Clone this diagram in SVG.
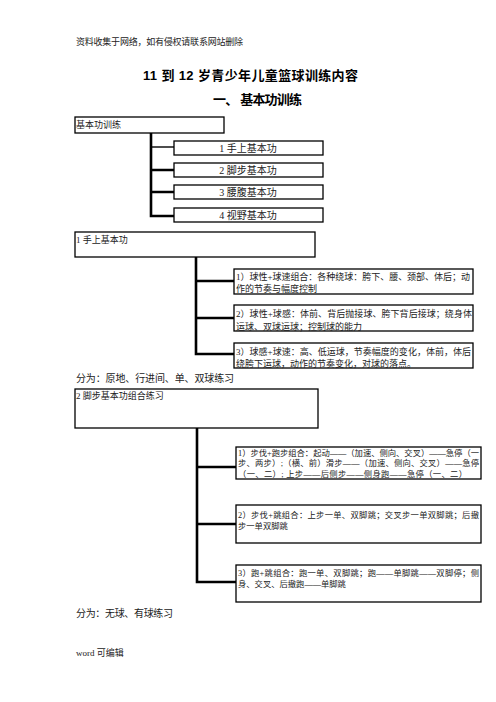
<svg xmlns="http://www.w3.org/2000/svg" width="496" height="702" viewBox="0 0 496 702">
<style>
text{font-family:"Liberation Serif","Noto Sans CJK SC",serif;fill:#222}
.t{font-size:9px}
.s{font-size:8.3px}
.m{font-size:10px}
.h{font-size:13px;font-weight:bold;font-family:"Liberation Sans","Noto Sans CJK SC",sans-serif;fill:#000}
.box{fill:#fff;stroke:#000;stroke-width:1.3}
.c{fill:none;stroke:#000;stroke-width:2.6}
</style>
<rect width="496" height="702" fill="#fff"/>
<text class="t" x="76" y="45" textLength="167">资料收集于网络，如有侵权请联系网站删除</text>
<text class="h" x="143" y="80" textLength="215">11 到 12 岁青少年儿童篮球训练内容</text>
<text class="h" x="213" y="104" textLength="89">一、 基本功训练</text>

<g id="connectors">
<path class="c" d="M151,133 V216 H174 M151,170 H174 M151,192 H174"/>
<path class="c" d="M151,147 H174" style="stroke-width:1.4"/>
<path class="c" d="M196,257 V354 H234 M196,281 H234 M196,318 H234"/>
<path class="c" d="M197,428 V582 H236 M197,467 H236 M197,524 H236"/>
</g>

<g id="root"><rect class="box" x="75" y="117" width="149" height="16"/><text class="t" x="76" y="128">基本功训练</text></g>
<g id="n1"><rect class="box" x="174" y="141" width="149" height="14"/><text class="m" x="248" y="152" text-anchor="middle">1 手上基本功</text></g>
<g id="n2"><rect class="box" x="174" y="163" width="149" height="14"/><text class="m" x="248" y="174" text-anchor="middle">2 脚步基本功</text></g>
<g id="n3"><rect class="box" x="174" y="185" width="149" height="14"/><text class="m" x="248" y="196" text-anchor="middle">3 腰腹基本功</text></g>
<g id="n4"><rect class="box" x="174" y="208" width="149" height="14"/><text class="m" x="248" y="219" text-anchor="middle">4 视野基本功</text></g>

<g id="s1"><rect class="box" x="75" y="232" width="240" height="25"/><text class="t" x="76" y="243">1 手上基本功</text></g>
<g id="s1a"><rect class="box" x="234" y="269" width="239" height="25"/>
<text class="t" x="236" y="279.5" textLength="234">1）球性+球速组合：各种绕球：胯下、腰、颈部、体后；动</text>
<text class="t" x="236" y="291.5">作的节奏与幅度控制</text></g>
<g id="s1b"><rect class="box" x="234" y="305" width="239" height="26"/>
<text class="t" x="236" y="316.5" textLength="236">2）球性+球感：体前、背后抛接球、胯下背后接球；绕身体</text>
<text class="t" x="236" y="329.5">运球、双球运球；控制球的能力</text></g>
<g id="s1c"><rect class="box" x="234" y="343" width="239" height="25"/>
<text class="t" x="236" y="354.5" textLength="235">3）球感+球速：高、低运球，节奏幅度的变化，体前，体后</text>
<text class="t" x="236" y="367">绕胯下运球，动作的节奏变化，对球的落点。</text></g>

<text class="m" x="76" y="381.5" textLength="158">分为：原地、行进间、单、双球练习</text>

<g id="s2"><rect class="box" x="75" y="389" width="243" height="39"/><text class="t" x="76" y="399">2 脚步基本功组合练习</text></g>
<g id="s2a"><rect class="box" x="236" y="447" width="245" height="32"/>
<text class="s" x="238" y="455.5" textLength="241">1）步伐+跑步组合：起动——（加速、侧向、交叉）——急停（一</text>
<text class="s" x="238" y="466" textLength="241">步、两步）;（横、前）滑步——（加速、侧向、交叉）——急停</text>
<text class="s" x="238" y="476.5" textLength="229">（一、二）; 上步——后侧步——侧身跑——急停（一、二）</text></g>
<g id="s2b"><rect class="box" x="236" y="505" width="245" height="38"/>
<text class="s" x="238" y="517.5" textLength="241">2）步伐+跳组合：上步一单、双脚跳；交叉步一单双脚跳；后撤</text>
<text class="s" x="238" y="528.5">步一单双脚跳</text></g>
<g id="s2c"><rect class="box" x="236" y="565" width="245" height="37"/>
<text class="s" x="238" y="575.5" textLength="241">3）跑+跳组合：跑一单、双脚跳；跑——单脚跳——双脚停；侧</text>
<text class="s" x="238" y="586.5">身、交叉、后撤跑——单脚跳</text></g>

<text class="m" x="76" y="617" textLength="97">分为：无球、有球练习</text>
<text class="t" x="76" y="656">word 可编辑</text>
</svg>
